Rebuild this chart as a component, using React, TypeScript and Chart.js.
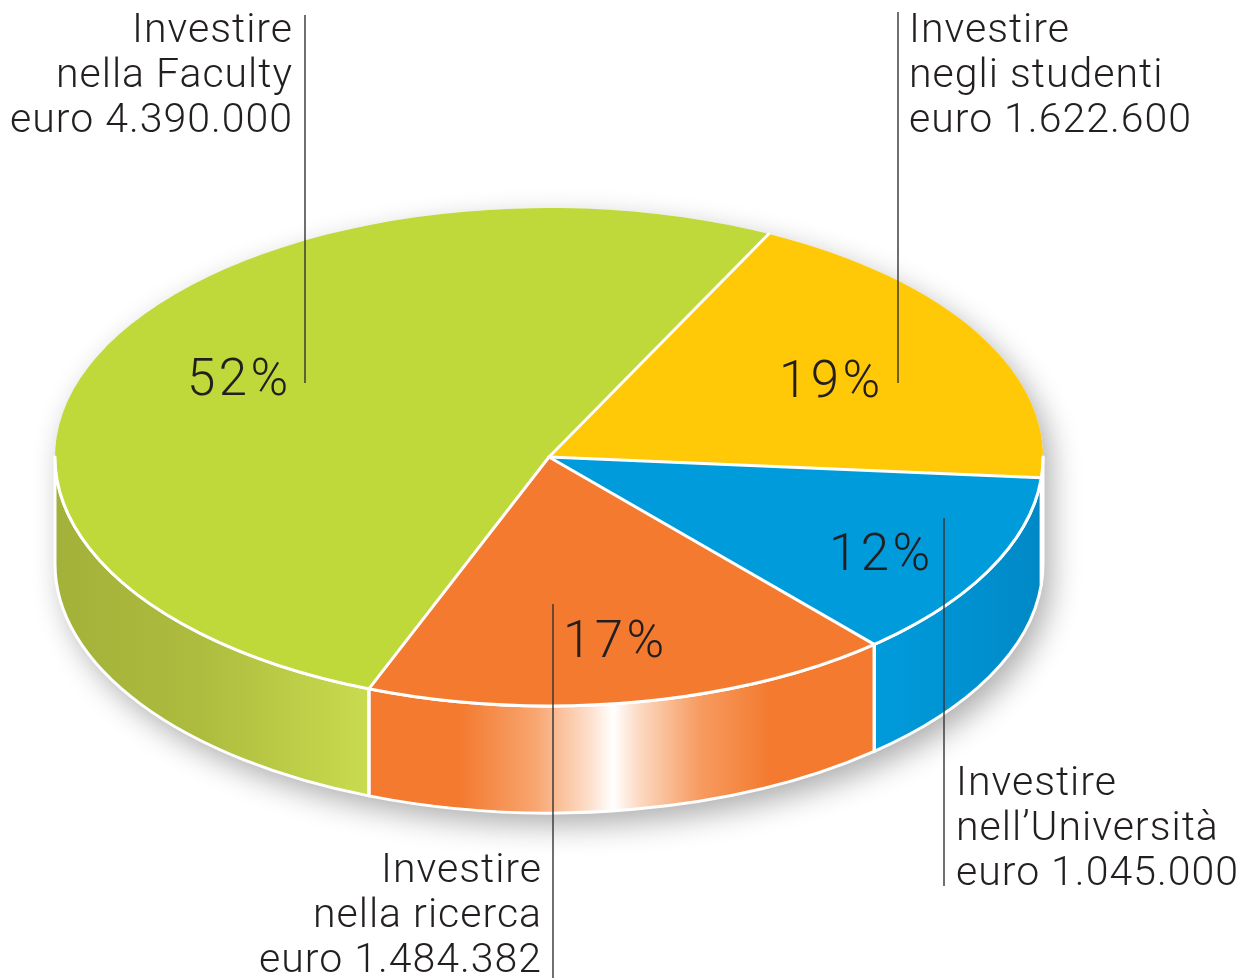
import React, { useEffect, useRef } from "react";
import { Chart, registerables } from "chart.js";

Chart.register(...registerables);

// ---- data ----
const categories = [
  "Investire negli studenti",
  "Investire nell'Università",
  "Investire nella ricerca",
  "Investire nella Faculty",
];
const amounts = [1622600, 1045000, 1484382, 4390000];
const percentLabels = ["19%", "12%", "17%", "52%"];
const labelLines = [
  ["Investire", "negli studenti", "euro 1.622.600"],
  ["Investire", "nell\u2019Università", "euro 1.045.000"],
  ["Investire", "nella ricerca", "euro 1.484.382"],
  ["Investire", "nella Faculty", "euro 4.390.000"],
];

// ---- style / layout ----
const topColors = ["#ffc907", "#009bdb", "#f37a2f", "#bfd83a"];
const W = 1254;
const H = 978;
const CX = 549;
const CY = 457;
const RX = 494;
const RY = 249;
const DEPTH = 107;
const TEXT_COLOR = "#231f20";
const FONT_FAMILY = "Roboto, 'Liberation Sans', Arial, sans-serif";

// label placement: [x, firstBaseline, align]
const labelPos: [number, number, CanvasTextAlign][] = [
  [909, 42, "left"],
  [956, 795, "left"],
  [542, 882, "right"],
  [293, 42, "right"],
];
// percent labels: left x, baseline
const pctPos: [number, number][] = [
  [779, 397],
  [829, 570],
  [563, 657],
  [187, 395],
];
const leaders: [number, number, number][] = [
  [898, 12, 383],
  [944, 518, 886],
  [553, 604, 978],
  [305, 15, 383],
];

function wallGradient(ctx: CanvasRenderingContext2D, i: number) {
  const g = ctx.createLinearGradient(CX - RX, 0, CX + RX, 0);
  const px = (x: number) => Math.min(1, Math.max(0, (x - (CX - RX)) / (2 * RX)));
  if (i === 3) {
    g.addColorStop(0, "#a3b13a");
    g.addColorStop(px(200), "#adbc3e");
    g.addColorStop(px(363), "#c8da4e");
    g.addColorStop(1, "#c8da4e");
  } else if (i === 2) {
    g.addColorStop(0, "#f37a2f");
    g.addColorStop(px(460), "#f37a2f");
    g.addColorStop(px(535), "#f8a570");
    g.addColorStop(px(590), "#fde0cc");
    g.addColorStop(px(613), "#ffffff");
    g.addColorStop(px(640), "#fcd8c0");
    g.addColorStop(px(700), "#f79b60");
    g.addColorStop(px(770), "#f37a2f");
    g.addColorStop(1, "#f37a2f");
  } else if (i === 1) {
    g.addColorStop(0, "#009bdb");
    g.addColorStop(px(880), "#009bdb");
    g.addColorStop(px(960), "#0092d2");
    g.addColorStop(1, "#0088c6");
  } else {
    g.addColorStop(0, "#e6b400");
    g.addColorStop(1, "#e6b400");
  }
  return g;
}

function ept(a: number, dy = 0) {
  return [CX + RX * Math.cos(a), CY + dy + RY * Math.sin(a)];
}

const pie3dPlugin = {
  id: "pie3d",
  beforeDatasetsDraw(chart: any) {
    const ctx: CanvasRenderingContext2D = chart.ctx;
    const meta = chart.getDatasetMeta(0);
    const arcs = meta.data;
    if (!arcs.length) return;

    // shadow of the whole disk
    ctx.save();
    ctx.beginPath();
    ctx.ellipse(CX, CY, RX, RY, 0, Math.PI, 0, false);
    ctx.lineTo(CX + RX, CY + DEPTH);
    ctx.ellipse(CX, CY + DEPTH, RX, RY, 0, 0, Math.PI, false);
    ctx.closePath();
    ctx.shadowColor = "rgba(0,0,0,0.32)";
    ctx.shadowBlur = 30;
    ctx.shadowOffsetX = 8;
    ctx.shadowOffsetY = 12;
    ctx.fillStyle = "#ffffff";
    ctx.fill();
    ctx.restore();

    // side walls
    const TWO = Math.PI * 2;
    arcs.forEach((arc: any, i: number) => {
      let a0 = arc.startAngle;
      let a1 = arc.endAngle;
      while (a1 > TWO) {
        a0 -= TWO;
        a1 -= TWO;
      }
      const ranges: [number, number][] = [];
      for (const off of [-TWO, 0, TWO]) {
        const s = Math.max(a0 + off, 0);
        const e = Math.min(a1 + off, Math.PI);
        if (e > s) ranges.push([s, e]);
      }
      ranges.forEach(([s, e]) => {
        ctx.save();
        ctx.beginPath();
        ctx.ellipse(CX, CY, RX, RY, 0, s, e, false);
        const [bx, by] = ept(e, DEPTH);
        ctx.lineTo(bx, by);
        ctx.ellipse(CX, CY + DEPTH, RX, RY, 0, e, s, true);
        ctx.closePath();
        ctx.fillStyle = wallGradient(ctx, i);
        ctx.fill();
        ctx.lineWidth = 3;
        ctx.strokeStyle = "#ffffff";
        ctx.lineJoin = "round";
        ctx.stroke();
        ctx.restore();
      });
    });

    // flatten the pie into an ellipse
    const a = arcs[0];
    ctx.save();
    ctx.translate(CX, CY);
    ctx.scale(RX / a.outerRadius, RY / a.outerRadius);
    ctx.translate(-a.x, -a.y);
  },
  afterDatasetsDraw(chart: any) {
    const ctx: CanvasRenderingContext2D = chart.ctx;
    const meta = chart.getDatasetMeta(0);
    const arcs = meta.data;
    if (!arcs.length) return;
    ctx.restore();

    // white edges
    ctx.save();
    ctx.strokeStyle = "#ffffff";
    ctx.lineWidth = 3;
    ctx.lineCap = "round";
    ctx.beginPath();
    ctx.ellipse(CX, CY, RX, RY, 0, 0, Math.PI, false);
    ctx.stroke();
    arcs.forEach((arc: any) => {
      const [x, y] = ept(arc.startAngle);
      ctx.beginPath();
      ctx.moveTo(CX, CY);
      ctx.lineTo(x, y);
      ctx.stroke();
      const s = Math.sin(arc.startAngle);
      if (s > 0) {
        ctx.beginPath();
        ctx.moveTo(x, y);
        ctx.lineTo(x, y + DEPTH);
        ctx.stroke();
      }
    });
    ctx.restore();

    // leader lines
    ctx.save();
    ctx.strokeStyle = "#333333";
    ctx.lineWidth = 1.4;
    leaders.forEach(([x, y0, y1]) => {
      ctx.beginPath();
      ctx.moveTo(x, y0);
      ctx.lineTo(x, y1);
      ctx.stroke();
    });
    ctx.restore();

    // texts
    ctx.save();
    ctx.fillStyle = TEXT_COLOR;
    ctx.textBaseline = "alphabetic";
    ctx.font = `300 41px ${FONT_FAMILY}`;
    (ctx as any).letterSpacing = "1px";
    labelLines.forEach((lines, i) => {
      const [x, y, align] = labelPos[i];
      ctx.textAlign = align;
      lines.forEach((t, k) => ctx.fillText(t, x, y + k * 45));
    });
    ctx.font = `300 51px ${FONT_FAMILY}`;
    (ctx as any).letterSpacing = "3.5px";
    ctx.textAlign = "left";
    percentLabels.forEach((t, i) => {
      const [x, y] = pctPos[i];
      ctx.fillText(t, x, y);
    });
    ctx.restore();
  },
};

export default function App() {
  const ref = useRef<HTMLCanvasElement | null>(null);
  useEffect(() => {
    document.body.style.margin = "0";
    const canvas = ref.current;
    if (!canvas) return;
    const chart = new Chart(canvas, {
      type: "pie",
      data: {
        labels: categories,
        datasets: [
          {
            data: amounts,
            backgroundColor: topColors,
            borderWidth: 0,
          },
        ],
      },
      options: {
        responsive: false,
        maintainAspectRatio: false,
        animation: false,
        rotation: 26.4,
        events: [],
        plugins: {
          legend: { display: false },
          tooltip: { enabled: false },
        },
      },
      plugins: [pie3dPlugin],
    });
    return () => chart.destroy();
  }, []);
  return (
    <div style={{ width: W, height: H, background: "#ffffff" }}>
      <canvas ref={ref} width={W} height={H} style={{ display: "block" }} />
    </div>
  );
}
